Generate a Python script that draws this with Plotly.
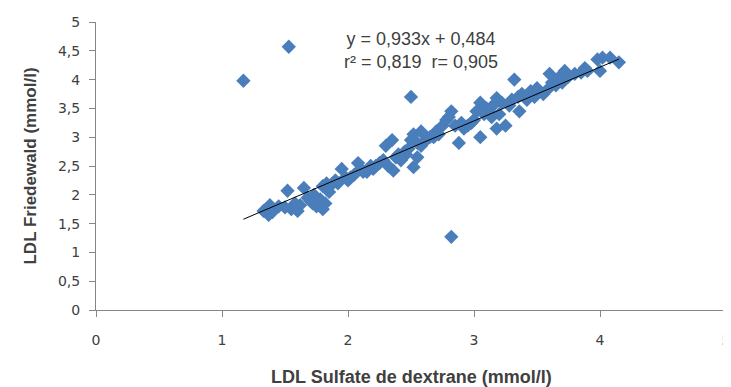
import plotly.graph_objects as go

# LDL Sulfate de dextrane (x) vs LDL Friedewald (y), mmol/l
ldl_sd = [1.17, 1.53, 2.50, 2.82,
          1.33, 1.35, 1.37, 1.38, 1.40, 1.50, 1.52, 1.55, 1.60, 1.62, 1.65, 1.68, 1.70, 1.72, 1.75, 1.78,
          1.80, 1.80, 1.82, 1.83, 1.85, 1.88, 1.90, 1.95, 1.98, 2.00, 2.05, 2.08, 2.10, 2.15, 2.18, 2.20,
          2.25, 2.28, 2.30, 2.32, 2.35, 2.36, 2.40, 2.42, 2.45, 2.48, 2.50, 2.52, 2.52, 2.55, 2.55, 2.58,
          2.60, 2.62, 2.65, 2.70, 2.72, 2.75, 2.78, 2.80, 2.82, 2.85, 2.88, 2.90, 2.95, 3.00, 3.02, 3.05,
          3.05, 3.08, 3.10, 3.12, 3.15, 3.18, 3.18, 3.20, 3.22, 3.25, 3.28, 3.30, 3.32, 3.35, 3.36, 3.38,
          3.40, 3.45, 3.48, 3.50, 3.55, 3.58, 3.60, 3.62, 3.65, 3.68, 3.70, 3.72, 3.75, 3.80, 3.85, 3.88,
          3.90, 3.98, 4.00, 4.02, 4.08, 4.15,
          1.45, 1.58, 1.73, 1.92, 2.02, 2.12, 2.22, 2.38, 2.46, 2.58, 2.68, 2.92, 2.98, 3.14, 3.42, 3.52]
ldl_fw = [3.98, 4.57, 3.70, 1.27,
          1.72, 1.75, 1.65, 1.82, 1.70, 1.78, 2.07, 1.75, 1.72, 1.82, 2.12, 1.95, 1.90, 1.85, 1.80, 1.92,
          1.75, 2.15, 1.85, 2.20, 2.05, 2.20, 2.25, 2.45, 2.30, 2.25, 2.35, 2.55, 2.45, 2.40, 2.50, 2.45,
          2.55, 2.60, 2.85, 2.50, 2.95, 2.42, 2.70, 2.60, 2.75, 2.80, 2.95, 3.05, 2.48, 2.65, 2.90, 3.10,
          3.05, 2.95, 3.00, 3.10, 3.05, 3.20, 3.30, 3.35, 3.45, 3.20, 2.90, 3.25, 3.20, 3.30, 3.45, 3.60,
          3.00, 3.40, 3.50, 3.45, 3.55, 3.68, 3.15, 3.40, 3.60, 3.20, 3.55, 3.65, 4.00, 3.70, 3.45, 3.75,
          3.70, 3.80, 3.70, 3.85, 3.75, 3.82, 4.10, 3.95, 3.90, 4.05, 3.95, 4.15, 4.05, 4.10, 4.12, 4.20,
          4.15, 4.35, 4.15, 4.38, 4.38, 4.30,
          1.80, 1.85, 2.00, 2.20, 2.30, 2.40, 2.50, 2.65, 2.70, 2.85, 3.00, 3.15, 3.25, 3.35, 3.65, 3.80]

slope = 0.933
intercept = 0.484
x_ticks = [0, 1, 2, 3, 4, 5]
y_ticks = [0, 0.5, 1, 1.5, 2, 2.5, 3, 3.5, 4, 4.5, 5]
eq_text = "y = 0,933x + 0,484<br>r² = 0,819  r= 0,905"
x_title = "LDL Sulfate de dextrane (mmol/l)"
y_title = "LDL Friedewald (mmol/l)"

x_line = [min(ldl_sd), max(ldl_sd)]
y_line = [slope * v + intercept for v in x_line]

fig = go.Figure()
fig.add_trace(go.Scatter(
    x=ldl_sd, y=ldl_fw, mode="markers",
    marker=dict(symbol="diamond", size=11, color="#4A7EBB", line=dict(width=0)),
    showlegend=False, hoverinfo="x+y"))
fig.add_trace(go.Scatter(
    x=x_line, y=y_line, mode="lines",
    line=dict(color="black", width=1), showlegend=False))

fig.add_annotation(x=2.58, y=4.51, xref="x", yref="y", text=eq_text, showarrow=False,
                   font=dict(family="Liberation Sans", size=18, color="#404040"), align="center")

# x-axis title placed as an annotation so it can sit close to the bottom edge
fig.add_annotation(x=0.5, y=0, xref="paper", yref="paper", yanchor="middle", yshift=-67,
                   text="<b>" + x_title + "</b>", showarrow=False,
                   font=dict(family="Liberation Sans", size=18, color="#404040"))

axis_common = dict(showgrid=False, zeroline=False, showline=True, linecolor="#868686", linewidth=1,
                   ticks="outside", ticklen=6, tickcolor="#868686", automargin=False,
                   ticklabeloverflow="allow",
                   tickfont=dict(family="DejaVu Sans", size=14, color="#404040"))

fig.update_xaxes(range=[0, 5], tickvals=x_ticks, ticklabelstandoff=11, **axis_common)
fig.update_yaxes(range=[0, 5], tickvals=y_ticks, ticklabelstandoff=6,
                 title=dict(text="<b>" + y_title + "</b>", standoff=16,
                            font=dict(family="Liberation Sans", size=17, color="#404040")),
                 **axis_common)

# page body adds an 8px offset, so the figure is sized to fit the 731x387 window
fig.update_layout(width=723, height=379, separators=", ",
                  margin=dict(l=88, r=5, t=14, b=77),
                  plot_bgcolor="white", paper_bgcolor="white")

fig.write_html("out.html")
